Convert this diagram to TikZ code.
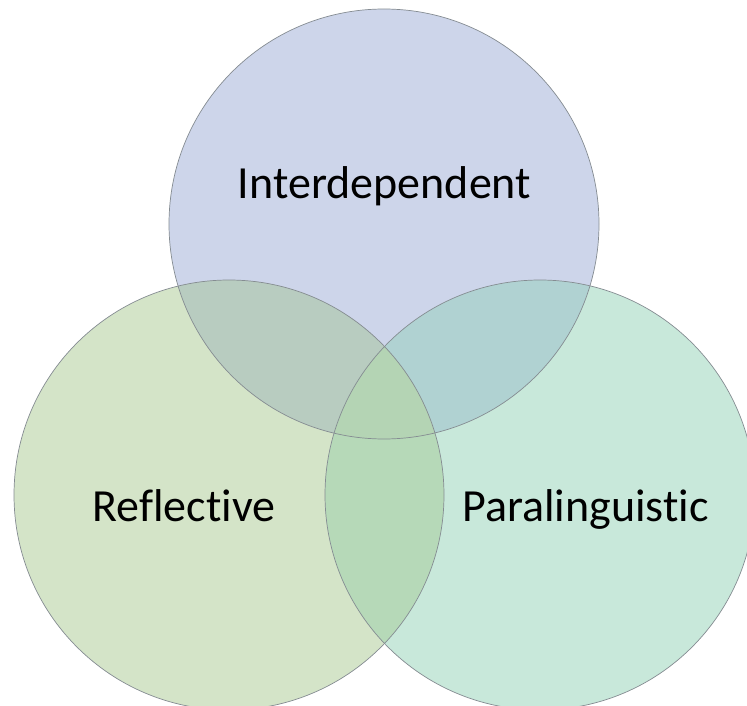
\documentclass[tikz,border=0pt]{standalone}
\usepackage{fontspec}
\setmainfont{Carlito}[Ligatures={NoCommon,NoDiscretionary}]
\definecolor{ctop}{HTML}{CDD5EA}
\definecolor{cleft}{HTML}{D4E4C8}
\definecolor{cright}{HTML}{C8E8DA}
\definecolor{ctl}{HTML}{B8CCC0}
\definecolor{ctr}{HTML}{B0D2D2}
\definecolor{clr}{HTML}{B6D9B8}
\definecolor{call}{HTML}{B4D4B4}
\definecolor{cedge}{HTML}{858C92}
\tikzset{
  ring/.style={draw=cedge, line width=0.7pt},
  lbl/.style={anchor=base, font=\fontsize{46}{50}\selectfont, text=black, inner sep=0pt}
}
\begin{document}
\begin{tikzpicture}[x=1pt,y=-1pt]
\useasboundingbox (0,0) rectangle (747,706);
\fill[white] (0,0) rectangle (747,706);
\coordinate (T) at (384,224);
\coordinate (L) at (229,495);
\coordinate (R) at (540,495);
\def\rr{215pt}
\fill[ctop] (T) circle[radius=\rr];
\fill[cleft] (L) circle[radius=\rr];
\fill[cright] (R) circle[radius=\rr];
\begin{scope}
  \clip (T) circle[radius=\rr];
  \fill[ctl] (L) circle[radius=\rr];
  \fill[ctr] (R) circle[radius=\rr];
\end{scope}
\begin{scope}
  \clip (L) circle[radius=\rr];
  \fill[clr] (R) circle[radius=\rr];
  \clip (T) circle[radius=\rr];
  \fill[call] (R) circle[radius=\rr];
\end{scope}
\draw[ring] (T) circle[radius=\rr];
\draw[ring] (L) circle[radius=\rr];
\draw[ring] (R) circle[radius=\rr];
\node[lbl] (inter) at (384.5,198) {Interdependent};
\node[lbl] (refl) at (184,521) {Reflective};
\node[lbl] (para) at (585.5,521) {Paralinguistic};
\end{tikzpicture}
\end{document}
